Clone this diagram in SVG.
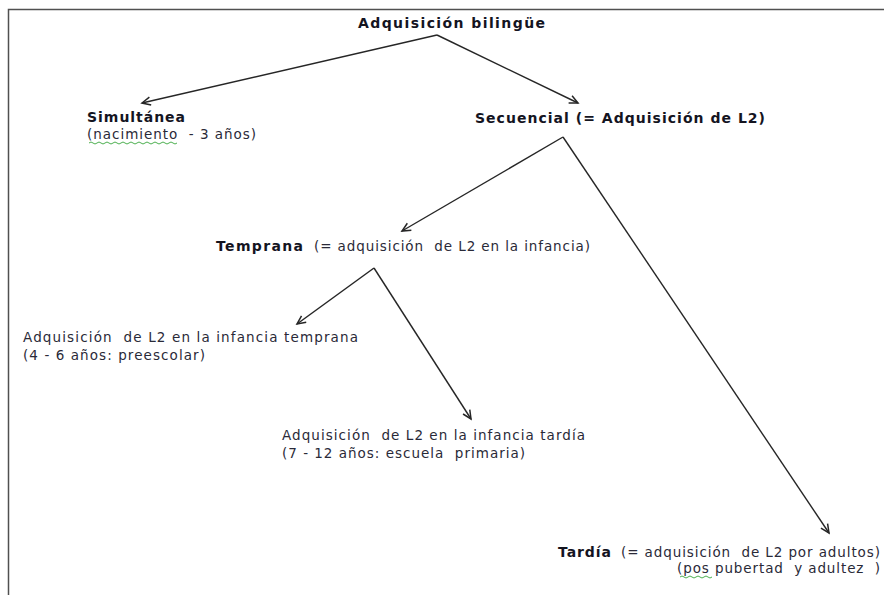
<svg xmlns="http://www.w3.org/2000/svg" width="884" height="595" viewBox="0 0 884 595">
<style>
text{font-family:"DejaVu Sans","Liberation Sans",sans-serif;font-size:13.5px;fill:#2a2a38;white-space:pre}
.b{font-weight:bold;fill:#14141f;font-size:14px}
.c{stroke:#262626;stroke-width:1.4;fill:none}
.sq{stroke:#4caf50;stroke-width:1;fill:none}
</style>
<defs>
<marker id="ah" markerUnits="userSpaceOnUse" markerWidth="12" markerHeight="12" refX="9.5" refY="5" orient="auto">
<path d="M1,1 L9.5,5 L1,9" stroke="#262626" stroke-width="1.5" fill="none"/>
</marker>
</defs>
<rect width="884" height="595" fill="#fff"/>
<path d="M8.5,595 V9.5 H884" stroke="#505050" stroke-width="1.5" fill="none"/>
<g id="connectors">
<path class="c" d="M437,35 L142,103" marker-end="url(#ah)"/>
<path class="c" d="M437,35 L578,103" marker-end="url(#ah)"/>
<path class="c" d="M563,137 L402,231" marker-end="url(#ah)"/>
<path class="c" d="M563,137 L829,533" marker-end="url(#ah)"/>
<path class="c" d="M374,268 L297,324" marker-end="url(#ah)"/>
<path class="c" d="M374,268 L471,419" marker-end="url(#ah)"/>
</g>
<g id="root"><text class="b" x="358" y="28" textLength="187">Adquisición bilingüe</text></g>
<g id="simultanea">
<text class="b" x="87" y="122" textLength="98">Simultánea</text>
<text x="87" y="139" textLength="169">(nacimiento  - 3 años)</text>
<path class="sq" d="M89,143 q2,-2 4,0 t4,0 t4,0 t4,0 t4,0 t4,0 t4,0 t4,0 t4,0 t4,0 t4,0 t4,0 t4,0 t4,0 t4,0 t4,0 t4,0 t4,0 t4,0 t4,0 t4,0 t4,0"/>
</g>
<g id="secuencial"><text class="b" x="475" y="123" textLength="290">Secuencial (= Adquisición de L2)</text></g>
<g id="temprana">
<text class="b" x="216" y="251" textLength="87">Temprana</text>
<text x="314" y="251" textLength="276">(= adquisición  de L2 en la infancia)</text>
</g>
<g id="infancia-temprana">
<text x="23" y="342" textLength="335">Adquisición  de L2 en la infancia temprana</text>
<text x="23" y="360" textLength="182">(4 - 6 años: preescolar)</text>
</g>
<g id="infancia-tardia">
<text x="282" y="440" textLength="303">Adquisición  de L2 en la infancia tardía</text>
<text x="282" y="458" textLength="243">(7 - 12 años: escuela  primaria)</text>
</g>
<g id="tardia">
<text class="b" x="558" y="557" textLength="53">Tardía</text>
<text x="621" y="557" textLength="259">(= adquisición  de L2 por adultos)</text>
<text x="677" y="573" textLength="203">(pos pubertad  y adultez  )</text>
<path class="sq" d="M680,577 q2,-2 4,0 t4,0 t4,0 t4,0 t4,0 t4,0 t4,0 t4,0"/>
</g>
</svg>
